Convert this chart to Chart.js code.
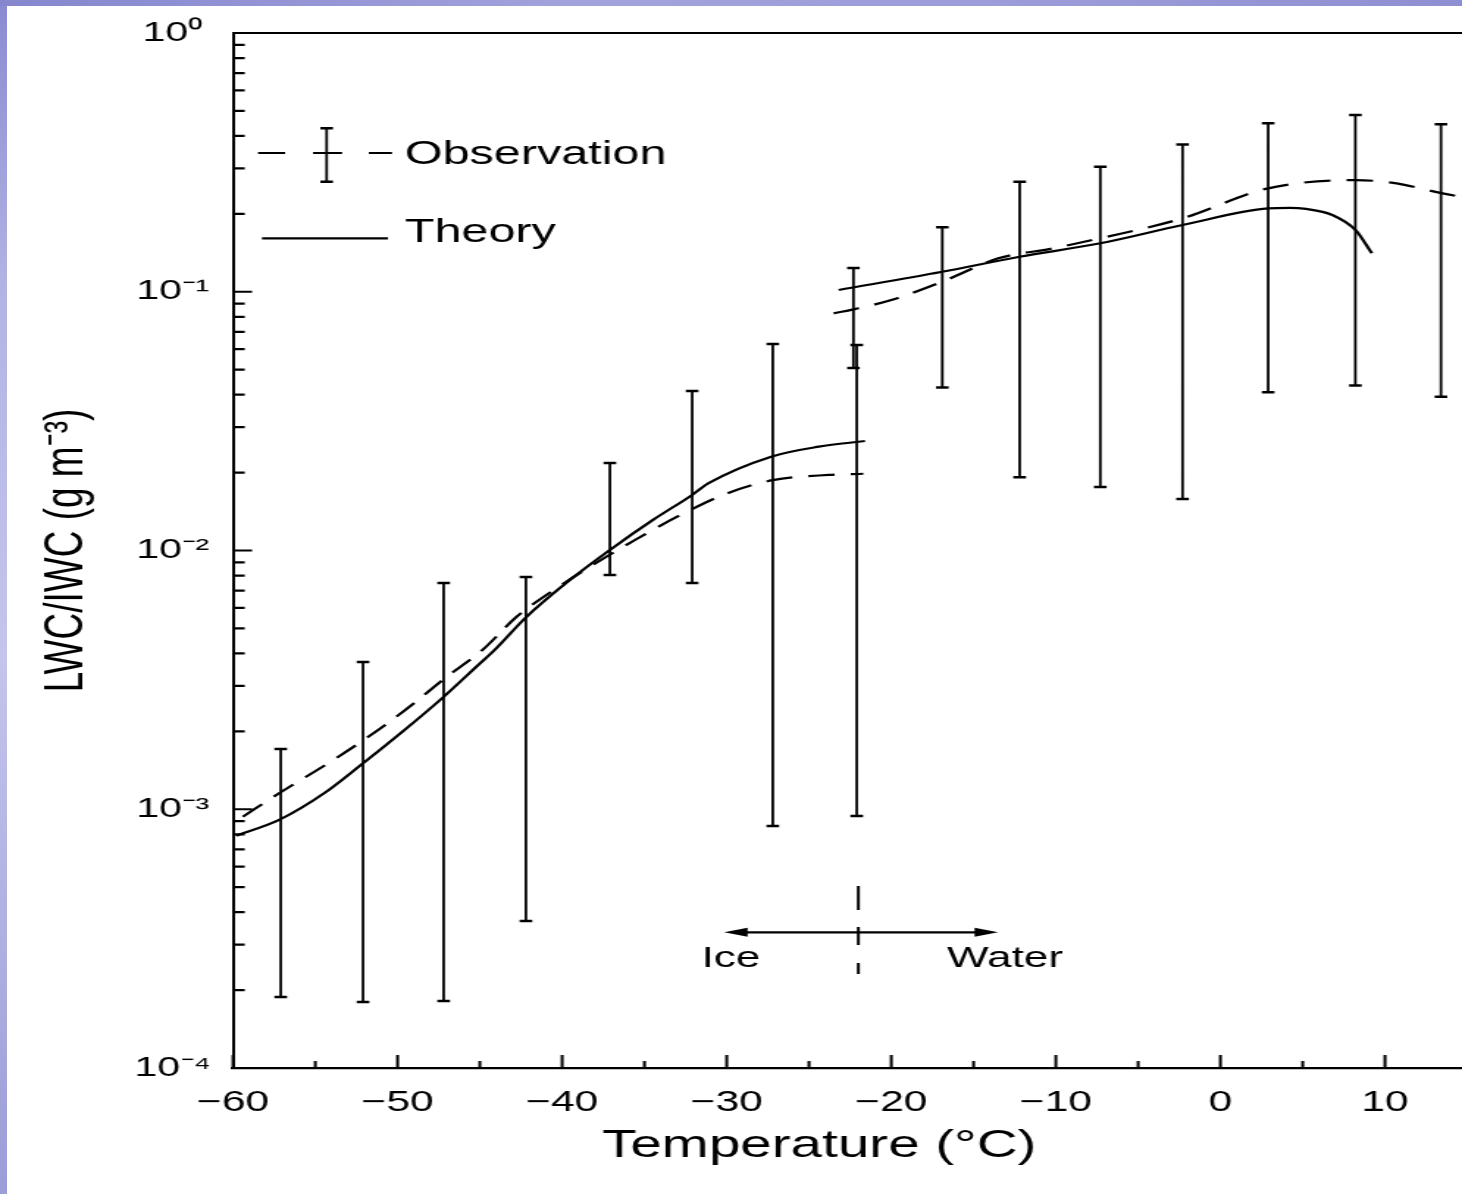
<!DOCTYPE html>
<html>
<head>
<meta charset="utf-8">
<script src="https://cdn.jsdelivr.net/npm/chart.js@4.4.1/dist/chart.umd.min.js"></script>
<style>
  html, body { margin: 0; padding: 0; background: #fff; }
  body { width: 1462px; height: 1194px; position: relative; overflow: hidden; }
  #leftBar { position: absolute; left: 0; top: 0; width: 7px; height: 1194px;
    background: linear-gradient(to bottom, #8a8ad2, #b4b4e4 25%, #c4c4ec 55%, #aeaee0 80%, #9c9cd8); }
  #topBar { position: absolute; left: 0; top: 0; width: 1462px; height: 6px;
    background: linear-gradient(to right, #8686cf, #a2a2dc 40%, #9a9ad8 75%, #8e8ed2); }
  #chart { position: absolute; left: 0; top: 0; }
</style>
</head>
<body>
<div id="leftBar"></div>
<div id="topBar"></div>
<!-- la figura original está estirada en horizontal: se dibuja a 995 px y se muestra a 1462 px -->
<canvas id="chart" width="995" height="1194" style="width:1462px;height:1194px"></canvas>
<script>
// Ejes
const xTicks = [-60, -50, -40, -30, -20, -10, 0, 10];
const xMinorTicks = [-55, -45, -35, -25, -15, -5, 5];
const yTicks = [1e-4, 1e-3, 1e-2, 1e-1, 1];
const yTickLabels = ['10⁻⁴', '10⁻³', '10⁻²', '10⁻¹', '10⁰'];

// Teoría (línea continua), rama de hielo y rama de agua
const theoryIceT = [-59.8, -57.2, -54.4, -52.1, -49.6, -47.2, -45.1, -44.1, -42.2, -39.8, -37.1, -34.5, -32.1, -31.1, -27.3, -24.4, -21.6];
const theoryIceV = [7.9e-4, 9.09e-4, 1.16e-3, 1.505e-3, 2.02e-3, 2.72e-3, 3.61e-3, 4.13e-3, 5.52e-3, 7.46e-3, 1.005e-2, 1.31e-2, 1.64e-2, 1.82e-2, 2.305e-2, 2.52e-2, 2.65e-2];
const theoryWaterT = [-23.2, -16.9, -12.2, -7.3, -2.3, 2.9, 4.2, 5.2, 6.8, 8.2, 9.2];
const theoryWaterV = [0.1016, 0.1195, 0.1366, 0.1539, 0.1811, 0.210, 0.211, 0.209, 0.198, 0.1733, 0.1408];

// Observación (línea discontinua)
const obsIceT = [-59.4, -57.2, -53.9, -51.4, -49.2, -47.1, -44.8, -42.8, -40.5, -38.3, -35.5, -32.8, -30.0, -27.2, -23.8, -21.7];
const obsIceV = [9.36e-4, 1.153e-3, 1.55e-3, 1.98e-3, 2.51e-3, 3.22e-3, 4.15e-3, 5.52e-3, 7.04e-3, 8.66e-3, 1.105e-2, 1.372e-2, 1.66e-2, 1.87e-2, 1.96e-2, 1.98e-2];
const obsWaterT = [-23.5, -22.3, -20.0, -16.9, -13.5, -10.2, -7.3, -2.3, 2.9, 8.2, 10.4, 13.5, 14.7];
const obsWaterV = [0.0825, 0.0855, 0.0929, 0.1094, 0.1346, 0.147, 0.161, 0.1922, 0.251, 0.270, 0.264, 0.240, 0.232];

// Barras de error de las observaciones
const barT = [-57.1, -52.1, -47.2, -42.2, -37.1, -32.1, -27.2, -22.1, -22.3, -16.9, -12.2, -7.3, -2.3, 2.9, 8.2, 13.4];
const barLow = [1.88e-4, 1.80e-4, 1.815e-4, 3.70e-4, 8.04e-3, 7.49e-3, 8.61e-4, 9.42e-4, 0.0507, 0.0427, 0.0192, 0.0176, 0.0158, 0.0409, 0.0434, 0.0393];
const barHigh = [1.71e-3, 3.71e-3, 7.49e-3, 7.90e-3, 2.18e-2, 4.13e-2, 6.28e-2, 6.22e-2, 0.1235, 0.1775, 0.266, 0.304, 0.371, 0.448, 0.482, 0.444];

// Anotación hielo / agua
const phaseBoundary = -22;
const boundaryTop = 5.05e-4;
const boundaryBottom = 2.31e-4;
const arrowFrom = -30.16;
const arrowTo = -13.51;
const arrowLevel = 3.345e-4;
const phaseLabels = ['Ice', 'Water'];
const phaseLabelT = [-29.74, -13.09];
const phaseLabelLevel = 2.64e-4;

const FONT = "'Liberation Sans', Arial, Helvetica, sans-serif";
Chart.defaults.font.family = FONT;
Chart.defaults.color = '#000';

const toPoints = (xs, ys) => xs.map((t, i) => ({ x: t, y: ys[i] }));

// Segmentos verticales separados por huecos (null)
const barSegments = [];
barT.forEach((t, i) => {
  barSegments.push({ x: t, y: barLow[i] }, { x: t, y: barHigh[i] }, { x: t, y: null });
});
const barCaps = barT.flatMap((t, i) => [{ x: t, y: barLow[i] }, { x: t, y: barHigh[i] }]);

const curveStyle = {
  borderColor: '#000',
  borderWidth: 2.2,
  pointRadius: 0,
  cubicInterpolationMode: 'monotone',
  fill: false
};

/**
 * Marcas hacia dentro, borde superior, leyenda y anotación de fase
 */
const decorations = {
  id: 'decorations',
  afterDraw(chart) {
    const { ctx, chartArea: a, scales: { x, y } } = chart;
    ctx.save();
    ctx.strokeStyle = '#000';
    ctx.fillStyle = '#000';

    // marcas del eje x
    ctx.lineWidth = 2;
    ctx.beginPath();
    xTicks.forEach(v => {
      const px = x.getPixelForValue(v);
      ctx.moveTo(px, a.bottom);
      ctx.lineTo(px, a.bottom - 13);
    });
    xMinorTicks.forEach(v => {
      const px = x.getPixelForValue(v);
      ctx.moveTo(px, a.bottom);
      ctx.lineTo(px, a.bottom - 7);
    });
    ctx.stroke();

    // marcas del eje y (logarítmico)
    ctx.lineWidth = 2.2;
    ctx.beginPath();
    yTicks.forEach(v => {
      const py = y.getPixelForValue(v);
      ctx.moveTo(a.left, py);
      ctx.lineTo(a.left + 13, py);
    });
    yTicks.slice(0, -1).forEach(d => {
      for (let m = 2; m <= 9; m++) {
        const py = y.getPixelForValue(d * m);
        ctx.moveTo(a.left, py);
        ctx.lineTo(a.left + 8, py);
      }
    });
    ctx.stroke();

    // borde superior
    ctx.beginPath();
    ctx.moveTo(a.left, a.top);
    ctx.lineTo(a.right, a.top);
    ctx.stroke();

    // leyenda
    ctx.lineWidth = 2.2;
    ctx.beginPath();
    ctx.moveTo(175.6, 153); ctx.lineTo(194, 153);
    ctx.moveTo(213, 153); ctx.lineTo(232.8, 153);
    ctx.moveTo(251, 153); ctx.lineTo(266.8, 153);
    ctx.moveTo(178.3, 238.3); ctx.lineTo(264, 238.3);
    ctx.stroke();
    ctx.lineWidth = 1.8;
    ctx.beginPath();
    ctx.moveTo(222.3, 128.3); ctx.lineTo(222.3, 181.7);
    ctx.stroke();
    ctx.lineWidth = 2.5;
    ctx.beginPath();
    ctx.moveTo(218, 128.3); ctx.lineTo(226.6, 128.3);
    ctx.moveTo(218, 181.7); ctx.lineTo(226.6, 181.7);
    ctx.stroke();
    ctx.font = `33px ${FONT}`;
    ctx.textAlign = 'left';
    ctx.textBaseline = 'middle';
    ctx.fillText('Observation', 275.6, 155);
    ctx.fillText('Theory', 275.6, 233);

    // límite hielo / agua
    const bx = x.getPixelForValue(phaseBoundary);
    ctx.lineWidth = 2;
    ctx.setLineDash([24, 17, 18, 18]);
    ctx.beginPath();
    ctx.moveTo(bx, y.getPixelForValue(boundaryTop));
    ctx.lineTo(bx, y.getPixelForValue(boundaryBottom));
    ctx.stroke();
    ctx.setLineDash([]);

    const ay = y.getPixelForValue(arrowLevel);
    const x1 = x.getPixelForValue(arrowFrom);
    const x2 = x.getPixelForValue(arrowTo);
    ctx.lineWidth = 2.2;
    ctx.beginPath();
    ctx.moveTo(x1 + 10, ay);
    ctx.lineTo(x2 - 10, ay);
    ctx.stroke();
    ctx.beginPath();
    ctx.moveTo(x1, ay); ctx.lineTo(x1 + 16, ay - 4.5); ctx.lineTo(x1 + 16, ay + 4.5); ctx.closePath();
    ctx.moveTo(x2, ay); ctx.lineTo(x2 - 16, ay - 4.5); ctx.lineTo(x2 - 16, ay + 4.5); ctx.closePath();
    ctx.fill();

    ctx.font = `30px ${FONT}`;
    ctx.textAlign = 'center';
    const ly = y.getPixelForValue(phaseLabelLevel);
    phaseLabels.forEach((txt, i) => ctx.fillText(txt, x.getPixelForValue(phaseLabelT[i]), ly));
    ctx.restore();
  }
};

new Chart(document.getElementById('chart'), {
  type: 'line',
  data: {
    datasets: [
      { label: 'Theory (ice)', data: toPoints(theoryIceT, theoryIceV), ...curveStyle },
      { label: 'Theory (water)', data: toPoints(theoryWaterT, theoryWaterV), ...curveStyle },
      { label: 'Observation (ice)', data: toPoints(obsIceT, obsIceV), ...curveStyle, borderDash: [18, 11] },
      { label: 'Observation (water)', data: toPoints(obsWaterT, obsWaterV), ...curveStyle, borderDash: [18, 11] },
      { label: 'Error bars', data: barSegments, borderColor: '#000', borderWidth: 1.8, pointRadius: 0, tension: 0, spanGaps: false },
      {
        label: 'Error bar caps', data: barCaps, showLine: false,
        pointStyle: 'line', pointRadius: 4.3, pointBorderWidth: 2.5,
        pointBorderColor: '#000', pointBackgroundColor: '#000'
      }
    ]
  },
  options: {
    responsive: false,
    animation: false,
    events: [],
    layout: { autoPadding: false, padding: { top: 33, right: 0, bottom: 0, left: 0 } },
    plugins: { legend: { display: false }, tooltip: { enabled: false } },
    scales: {
      x: {
        type: 'linear',
        min: -60,
        max: 14.68,
        afterBuildTicks: s => { s.ticks = xTicks.map(v => ({ value: v })); },
        afterFit: s => { s.height = 126; },
        grid: { display: true, color: 'rgba(0,0,0,0)', drawTicks: false },
        border: { display: true, color: '#000', width: 2.2 },
        ticks: {
          font: { size: 29 },
          color: '#000',
          padding: 18,
          maxRotation: 0,
          autoSkip: false,
          callback: v => String(v).replace('-', '\u2212')
        },
        title: {
          display: true,
          text: 'Temperature (°C)\u2002\u2002',
          font: { size: 38.5 },
          color: '#000',
          padding: { top: 0, bottom: 25 }
        }
      },
      y: {
        type: 'logarithmic',
        min: 1e-4,
        max: 1,
        afterBuildTicks: s => { s.ticks = yTicks.map(v => ({ value: v })); },
        afterFit: s => { s.width = 158.57; },
        grid: { display: true, color: 'rgba(0,0,0,0)', drawTicks: false },
        border: { display: true, color: '#000', width: 2 },
        ticks: {
          font: { size: 28 },
          color: '#000',
          padding: 15,
          crossAlign: 'center',
          autoSkip: false,
          callback: (v, i) => yTickLabels[i]
        },
        title: {
          display: true,
          text: 'LWC/IWC (g m⁻³)',
          font: { size: 37 },
          color: '#000',
          padding: { top: 24, bottom: 0 }
        }
      }
    }
  },
  plugins: [decorations]
});
</script>
</body>
</html>
